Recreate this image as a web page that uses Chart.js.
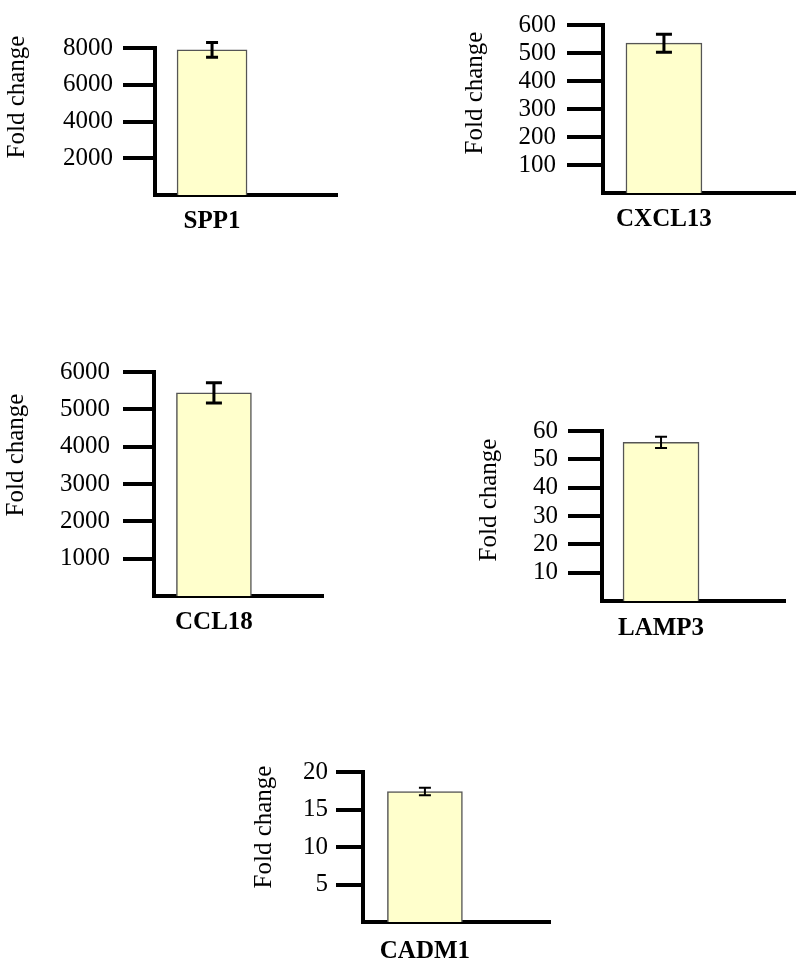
<!DOCTYPE html>
<html>
<head>
<meta charset="utf-8">
<script src="https://cdn.jsdelivr.net/npm/chart.js@4.4.1/dist/chart.umd.min.js"></script>
<style>
  body { margin: 0; background: #fff; width: 800px; height: 962px; position: relative; overflow: hidden; }
  canvas { position: absolute; }
</style>
</head>
<body>
<script>
// one bar per gene
const genes = ["SPP1", "CXCL13", "CCL18", "LAMP3", "CADM1"];
const foldChange = [7900, 535, 5440, 56, 17.4];
const foldError = [400, 32, 270, 2, 0.5];
const axisMax = [8000, 600, 6000, 60, 20];
const axisStep = [2000, 100, 1000, 10, 5];

// where each little panel sits on the page (px)
const panels = [
  { axisX: 155, top: 37, bottom: 195, right: 337, tickLen: 32, tickPad: 10, labelPad: 12, bar: 70, slots: 3.19, errW: 3, cap: 6, titleX: 17, titleY: 97 },
  { axisX: 603, top: 13, bottom: 193, right: 795, tickLen: 36, tickPad: 11, labelPad: 12, bar: 76, slots: 3.15, errW: 3, cap: 8, titleX: 475, titleY: 93 },
  { axisX: 154, top: 358, bottom: 596, right: 323, tickLen: 31, tickPad: 13, labelPad: 12, bar: 75, slots: 2.82, errW: 3, cap: 8, titleX: 16, titleY: 455 },
  { axisX: 602, top: 420, bottom: 601, right: 785, tickLen: 34, tickPad: 10, labelPad: 13, bar: 76, slots: 3.1, errW: 2, cap: 6, titleX: 489, titleY: 500 },
  { axisX: 363, top: 763, bottom: 922, right: 550, tickLen: 27, tickPad: 8, labelPad: 15, bar: 75, slots: 3.02, errW: 2, cap: 6, titleX: 264, titleY: 827 }
];

const SERIF = "'Liberation Serif', 'Times New Roman', serif";
const Y_W = 150, PAD_T = 14, X_H = 44, PAD_R = 4;

const errorBars = {
  id: "errorBars",
  afterDatasetsDraw(chart, args, opts) {
    const { ctx } = chart;
    const y = chart.scales.y;
    const ds = chart.data.datasets[0];
    chart.getDatasetMeta(0).data.forEach((bar, i) => {
      const v = ds.data[i].y, e = ds.errors[i];
      const hi = y.getPixelForValue(v + e), lo = y.getPixelForValue(v - e);
      ctx.save();
      ctx.strokeStyle = "#000";
      ctx.lineWidth = opts.width;
      ctx.beginPath();
      ctx.moveTo(bar.x, hi); ctx.lineTo(bar.x, lo);
      ctx.moveTo(bar.x - opts.cap, hi); ctx.lineTo(bar.x + opts.cap, hi);
      ctx.moveTo(bar.x - opts.cap, lo); ctx.lineTo(bar.x + opts.cap, lo);
      ctx.stroke();
      ctx.restore();
    });
  }
};

// rotated y title, placed freely (the scale title can only sit at the axis middle)
const yTitle = {
  id: "yTitle",
  afterDraw(chart, args, opts) {
    const ctx = chart.ctx;
    ctx.save();
    ctx.translate(opts.x, opts.y);
    ctx.rotate(-Math.PI / 2);
    ctx.font = opts.font;
    ctx.fillStyle = "#000";
    ctx.textAlign = "center";
    ctx.textBaseline = "middle";
    ctx.fillText(opts.text, 0, 0);
    ctx.restore();
  }
};

genes.forEach((gene, i) => {
  const p = panels[i];
  const left = p.axisX - Y_W;
  const top = p.top - PAD_T;
  const w = Y_W + (p.right - p.axisX) + PAD_R;
  const h = PAD_T + (p.bottom - p.top) + X_H;

  const canvas = document.createElement("canvas");
  canvas.width = w;
  canvas.height = h;
  canvas.style.left = left + "px";
  canvas.style.top = top + "px";
  document.body.appendChild(canvas);

  new Chart(canvas.getContext("2d"), {
    type: "bar",
    data: {
      datasets: [{
        data: [{ x: 1, y: foldChange[i] }],
        errors: [foldError[i]],
        backgroundColor: "#FFFFCC",
        borderColor: "#555555",
        borderWidth: 1.5,
        borderSkipped: "bottom",
        barThickness: p.bar
      }]
    },
    options: {
      responsive: false,
      animation: false,
      layout: { padding: { top: PAD_T, right: PAD_R, left: 0, bottom: 0 } },
      plugins: {
        legend: { display: false },
        tooltip: { enabled: false },
        errorBars: { width: p.errW, cap: p.cap },
        yTitle: { text: "Fold change", x: p.titleX - left, y: p.titleY - top, font: "25px " + SERIF }
      },
      scales: {
        x: {
          type: "linear",
          min: 0,
          max: p.slots,
          offset: false,
          z: 1,
          afterFit: s => { s.height = X_H; },
          afterBuildTicks: s => { s.ticks = [{ value: 1 }]; },
          grid: { display: true, drawOnChartArea: false, drawTicks: false, color: "transparent", offset: false },
          border: { display: true, width: 4, color: "#000" },
          ticks: {
            padding: p.labelPad,
            color: "#000",
            font: { family: SERIF, size: 25, weight: "bold" },
            callback: () => gene
          }
        },
        y: {
          min: 0,
          max: axisMax[i],
          afterFit: s => { s.width = Y_W; },
          afterBuildTicks: s => { s.ticks = s.ticks.filter(t => t.value !== 0); },
          grid: { display: true, drawOnChartArea: false, drawTicks: true, tickLength: p.tickLen, tickWidth: 4, lineWidth: 4, tickColor: "#000", color: "#000" },
          border: { display: true, width: 4, color: "#000" },
          ticks: {
            stepSize: axisStep[i],
            padding: p.tickPad,
            color: "#000",
            font: { family: SERIF, size: 25 },
            callback: v => String(v)
          }
        }
      }
    },
    plugins: [errorBars, yTitle]
  });
});
</script>
</body>
</html>
